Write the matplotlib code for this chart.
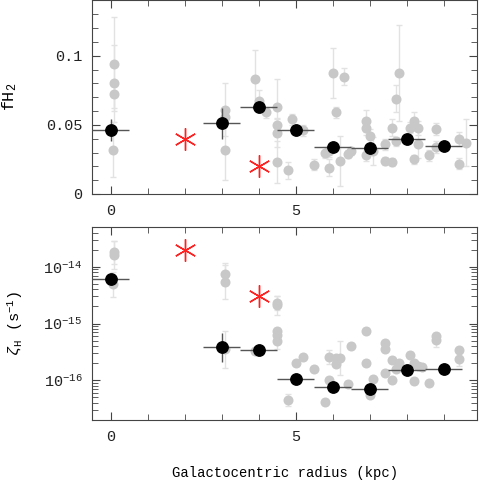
import numpy as np
import matplotlib
matplotlib.use("Agg")
import matplotlib.pyplot as plt
from matplotlib.ticker import MultipleLocator, FuncFormatter

plt.rcParams['font.family'] = ['Liberation Mono', 'DejaVu Sans']
plt.rcParams['mathtext.fontset'] = 'custom'
plt.rcParams['mathtext.rm'] = 'Liberation Mono'
plt.rcParams['mathtext.it'] = 'Liberation Mono:italic'
plt.rcParams['font.size'] = 10

# individual sight lines, fH2 panel
fh2_x = [0.1, 0.1, 0.1, 0.05, 3.1, 3.1, 3.1, 3.9, 4.0, 4.2, 4.5, 4.5, 4.5, 4.5,
         4.8, 4.9, 5.2, 5.5, 5.8, 5.9, 5.9, 6.0, 6.1, 6.2, 6.3, 6.4, 6.5,
         6.9, 6.9, 7.0, 6.9, 7.1, 7.4, 7.4, 7.6, 7.6, 7.7, 7.8, 7.7,
         8.1, 8.2, 8.3, 8.2, 8.3, 8.6, 8.8, 8.8, 9.4, 9.4, 9.6]
fh2_y = [0.094, 0.080, 0.072, 0.032, 0.061, 0.056, 0.032, 0.083, 0.067, 0.059,
         0.063, 0.050, 0.044, 0.023, 0.017, 0.054, 0.046, 0.021, 0.030, 0.019,
         0.031, 0.0875, 0.059, 0.024, 0.085, 0.029, 0.031, 0.053, 0.048, 0.042,
         0.028, 0.031, 0.036, 0.024, 0.048, 0.023, 0.069, 0.0875, 0.038,
         0.048, 0.053, 0.048, 0.025, 0.036, 0.028, 0.047, 0.034, 0.040, 0.022, 0.037]
fh2_err = [0.034, 0.028, 0.010, 0.020, 0.019, 0.005, 0.022, 0.021, 0.008, 0.004,
           0.020, 0.005, 0.010, 0.015, 0.006, 0.004, 0.004, 0.004, 0.004, 0.006,
           0.004, 0.018, 0.004, 0.018, 0.006, 0.003, 0.003, 0.008, 0.005, 0.005,
           0.004, 0.010, 0.004, 0.003, 0.006, 0.003, 0.010, 0.035, 0.003,
           0.004, 0.006, 0.005, 0.003, 0.010, 0.004, 0.004, 0.004, 0.005, 0.004, 0.017]

# individual sight lines, zeta_H panel (err in dex)
zeta_x = [0.1, 0.1, 0.05, 3.1, 3.1, 3.1, 3.9, 4.5, 4.5, 4.5, 4.5, 4.5, 4.8,
          5.0, 5.2, 5.5, 5.8, 5.9, 5.9, 6.1, 6.1, 6.2, 6.4, 6.5, 6.9, 6.9,
          7.0, 7.1, 7.4, 7.4, 7.4, 7.6, 7.6, 7.7, 7.8, 8.1, 8.2, 8.2, 8.3,
          8.4, 8.6, 8.8, 8.8, 9.4, 9.4]
zeta_y = [1.8e-14, 1.6e-14, 4.9e-15, 7.4e-15, 5.3e-15, 3.5e-16, 3.3e-16, 2.3e-15,
          2.1e-15, 7.4e-16, 6.3e-16, 4.9e-16, 4.5e-17, 2.0e-16, 2.6e-16, 1.6e-16,
          4.2e-17, 2.6e-16, 1.0e-16, 2.5e-16, 1.9e-16, 2.5e-16, 8.7e-17, 4.0e-16,
          7.4e-16, 2.0e-16, 5.6e-17, 1.07e-16, 4.6e-16, 3.5e-16, 1.35e-16, 2.3e-16,
          1.0e-16, 1.6e-16, 2.0e-16, 2.8e-16, 2.0e-16, 9.8e-17, 1.8e-16, 1.7e-16,
          9.0e-17, 6.0e-16, 5.1e-16, 3.4e-16, 2.4e-16]
zeta_err = [0.20, 0.25, 0.22, 0.19, 0.30, 0.32, 0.05, 0.13, 0.17, 0.05, 0.05, 0.13,
            0.10, 0.05, 0.05, 0.05, 0.05, 0.12, 0.05, 0.05, 0.05, 0.30, 0.05, 0.05,
            0.05, 0.05, 0.05, 0.05, 0.05, 0.05, 0.05, 0.05, 0.05, 0.05, 0.05, 0.05,
            0.05, 0.05, 0.05, 0.05, 0.05, 0.05, 0.12, 0.05, 0.12]

# binned averages
bin_x = [0, 3, 4, 5, 6, 7, 8, 9]
bin_fh2 = [0.046, 0.051, 0.063, 0.046, 0.034, 0.033, 0.040, 0.035]
bin_fh2_err = [0.008, 0.011, 0.002, 0.003, 0.002, 0.002, 0.002, 0.002]
bin_zeta = [6.0e-15, 3.8e-16, 3.4e-16, 1.05e-16, 7.6e-17, 7.1e-17, 1.5e-16, 1.6e-16]
bin_zeta_err = [0.10, 0.25, 0.05, 0.03, 0.03, 0.03, 0.03, 0.03]
bin_half = 0.5

# other measurements (red asterisks)
other_x = [2, 4]
other_fh2 = [0.040, 0.020]
other_zeta = [2.0e-14, 3.0e-15]

grey = '#c8c8c8'
grey_err = '#e2e2e2'
dark = '#555555'
star = (6, 2, 0)

fig = plt.figure(figsize=(4.8, 4.88), dpi=100)
ax1 = fig.add_axes([0.192, 0.6025, 0.802, 0.3965])
ax2 = fig.add_axes([0.192, 0.1393, 0.802, 0.3955])

# top panel
ax1.errorbar(fh2_x, fh2_y, yerr=fh2_err, fmt='none', ecolor=grey_err,
             elinewidth=1, capsize=2.5, zorder=1)
ax1.plot(fh2_x, fh2_y, 'o', color=grey, ms=7.2, mec='none', zorder=2)
ax1.errorbar(bin_x, bin_fh2, xerr=bin_half, yerr=bin_fh2_err, fmt='o', color='black',
             ecolor=dark, elinewidth=1, ms=8.2, capsize=0, zorder=3)
ax1.plot(other_x, other_fh2, marker=star, ls='none', color='#ff2020', ms=16, mew=1, zorder=4)
ax1.set_ylim(0, 0.14)
ax1.set_ylabel(r'fH$_2$', fontsize=12)
ax1.yaxis.set_label_coords(-0.19, 0.5)
ax1.yaxis.set_major_locator(MultipleLocator(0.05))
ax1.yaxis.set_minor_locator(MultipleLocator(0.01))
ax1.yaxis.set_major_formatter(FuncFormatter(lambda v, p: '%g' % round(v, 3)))

# bottom panel
zy = np.array(zeta_y)
ze = np.array(zeta_err)
ax2.errorbar(zeta_x, zy, yerr=[zy * (1 - 10 ** -ze), zy * (10 ** ze - 1)], fmt='none',
             ecolor=grey_err, elinewidth=1, capsize=2.5, zorder=1)
ax2.plot(zeta_x, zy, 'o', color=grey, ms=7.2, mec='none', zorder=2)
by = np.array(bin_zeta)
be = np.array(bin_zeta_err)
ax2.errorbar(bin_x, by, xerr=bin_half, yerr=[by * (1 - 10 ** -be), by * (10 ** be - 1)],
             fmt='o', color='black', ecolor=dark, elinewidth=1, ms=8.2, capsize=0, zorder=3)
ax2.plot(other_x, other_zeta, marker=star, ls='none', color='#ff2020', ms=16, mew=1, zorder=4)
ax2.set_yscale('log')
ax2.set_ylim(2e-17, 5e-14)
ax2.set_ylabel(r'$\zeta_{\rm H}$ (s$^{-1}$)', fontsize=11)
ax2.yaxis.set_label_coords(-0.175, 0.5)
ax2.set_xlabel('Galactocentric radius (kpc)', labelpad=16)

for ax in (ax1, ax2):
    ax.set_xlim(-0.5, 9.9)
    ax.xaxis.set_major_locator(MultipleLocator(5))
    ax.xaxis.set_minor_locator(MultipleLocator(1))
    ax.tick_params(which='both', direction='in', top=True, right=True, color='#444444',
                   labelcolor='#222222', labelsize=11)
    ax.tick_params(which='major', length=6, pad=7)
    ax.tick_params(which='minor', length=4)
    for s in ax.spines.values():
        s.set_color('#444444')

fig.savefig('out.png', dpi=100)
